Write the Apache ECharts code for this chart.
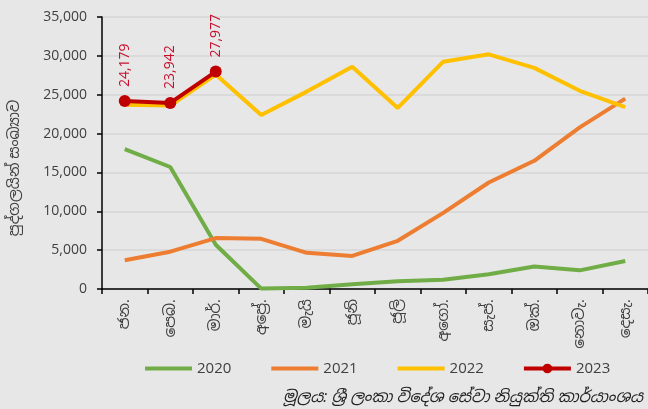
<!DOCTYPE html>
<html>
<head>
<meta charset="utf-8">
<script src="https://cdn.jsdelivr.net/npm/echarts@6/dist/echarts.min.js"></script>
<style>
  html, body { margin: 0; padding: 0; background: #e7e7e7; }
  #chart { width: 648px; height: 409px; }
</style>
</head>
<body>
<div id="chart"></div>
<script>
// මාස
const months = ['ජන.', 'පෙබ.', 'මාර්.', 'අප්‍රේ.', 'මැයි', 'ජූනි', 'ජූලි', 'අගෝ.', 'සැප්.', 'ඔක්.', 'නොවැ.', 'දෙසැ.']

const y2020 = [18000, 15700, 5700, 50, 150, 600, 1000, 1200, 1900, 2900, 2400, 3600]
const y2021 = [3700, 4800, 6550, 6450, 4650, 4250, 6200, 9800, 13700, 16500, 20800, 24500]
const y2022 = [23700, 23600, 27600, 22400, 25400, 28600, 23300, 29250, 30200, 28450, 25500, 23400]
const y2023 = [24179, 23942, 27977]

const yTicks = [0, 5000, 10000, 15000, 20000, 25000, 30000, 35000]

const font = "'Open Sans', 'Noto Sans', 'Noto Sans Sinhala', sans-serif"
const textColor = '#404040'

const chart = echarts.init(document.getElementById('chart'))

function lineSeries (name, data, color) {
  return {
    name: name,
    type: 'line',
    data: data,
    symbol: 'none',
    lineStyle: { color: color, width: 4 },
    itemStyle: { color: color }
  }
}

chart.setOption({
  backgroundColor: '#e7e7e7',
  animation: false,
  textStyle: { fontFamily: font },
  grid: { left: 102, top: 17, width: 550, height: 272 },
  legend: {
    left: 138,
    top: 356,
    itemWidth: 47,
    itemHeight: 12,
    itemGap: 38,
    lineStyle: { width: 4 },
    textStyle: { color: textColor, fontSize: 15, fontFamily: font },
    data: [
      { name: '2020', itemStyle: { opacity: 0 } },
      { name: '2021', itemStyle: { opacity: 0 } },
      { name: '2022', itemStyle: { opacity: 0 } },
      { name: '2023' }
    ]
  },
  xAxis: {
    type: 'category',
    data: months,
    boundaryGap: true,
    axisLine: { lineStyle: { color: '#000', width: 1.5 } },
    axisTick: { show: true, length: 5, lineStyle: { color: '#000', width: 1.5 } },
    axisLabel: { rotate: 90, color: textColor, fontSize: 15, margin: 10, fontFamily: font }
  },
  yAxis: {
    type: 'value',
    min: yTicks[0],
    max: yTicks[yTicks.length - 1],
    interval: 5000,
    axisLine: { show: true, lineStyle: { color: '#000', width: 1.5 } },
    axisTick: { show: true, length: 5, lineStyle: { color: '#000', width: 1.5 } },
    axisLabel: {
      color: textColor,
      fontSize: 14,
      margin: 15,
      fontFamily: font,
      formatter: v => v.toLocaleString('en-US')
    },
    splitLine: { lineStyle: { color: '#d6d6d6', width: 1.5 } }
  },
  graphic: [
    {
      type: 'text',
      x: 15,
      y: 168,
      rotation: Math.PI / 2,
      style: {
        text: 'පුද්ගලයින් සංඛ්‍යාව',
        fill: textColor,
        font: '15px ' + font,
        align: 'center',
        verticalAlign: 'middle'
      }
    },
    {
      type: 'text',
      x: 283,
      y: 397,
      style: {
        text: 'මූලය: ශ්‍රී ලංකා විදේශ සේවා නියුක්ති කාර්යාංශය',
        fill: '#222',
        font: 'italic 16px ' + font,
        align: 'left',
        verticalAlign: 'middle'
      }
    }
  ],
  series: [
    lineSeries('2020', y2020, '#70ad47'),
    lineSeries('2021', y2021, '#ed7d31'),
    lineSeries('2022', y2022, '#ffc000'),
    {
      name: '2023',
      type: 'line',
      data: y2023,
      symbol: 'circle',
      symbolSize: 12,
      lineStyle: { color: '#c00000', width: 4 },
      itemStyle: { color: '#c00000' },
      label: {
        show: true,
        position: 'top',
        rotate: 90,
        align: 'left',
        verticalAlign: 'middle',
        distance: 8,
        color: '#c8102e',
        fontSize: 14,
        fontFamily: font,
        formatter: p => p.value.toLocaleString('en-US')
      }
    }
  ]
})
</script>
</body>
</html>
